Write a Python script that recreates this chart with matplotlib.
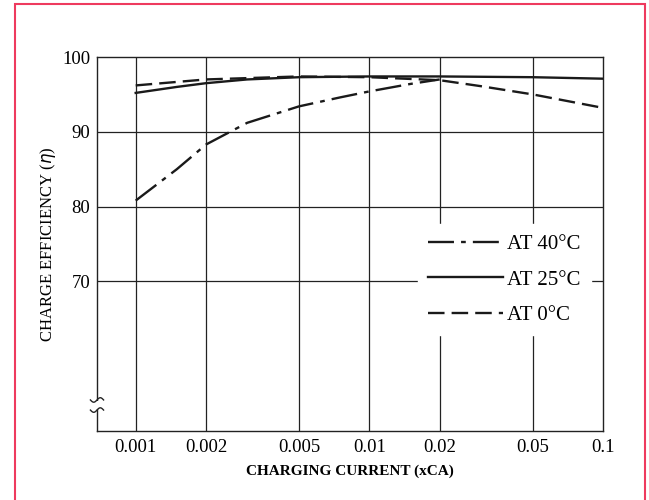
import numpy as np
import matplotlib
matplotlib.use("Agg")
import matplotlib.pyplot as plt
from matplotlib.lines import Line2D
from matplotlib.patches import Rectangle

# data
x_40 = [0.001, 0.0015, 0.002, 0.003, 0.005, 0.0075, 0.01, 0.015, 0.02]
eff_40 = [80.8, 85.0, 88.3, 91.2, 93.4, 94.6, 95.4, 96.4, 97.0]

x_25 = [0.001, 0.0015, 0.002, 0.003, 0.005, 0.01, 0.02, 0.05, 0.1]
eff_25 = [95.2, 96.0, 96.5, 97.0, 97.3, 97.4, 97.4, 97.3, 97.1]

x_0 = [0.001, 0.002, 0.005, 0.01, 0.02, 0.03, 0.05, 0.1]
eff_0 = [96.2, 97.0, 97.4, 97.3, 96.9, 96.1, 95.0, 93.2]

x_ticks = [0.001, 0.002, 0.005, 0.01, 0.02, 0.05, 0.1]
x_ticklabels = ["0.001", "0.002", "0.005", "0.01", "0.02", "0.05", "0.1"]
y_ticks = [70, 80, 90, 100]

labels = ["AT 40°C", "AT 25°C", "AT 0°C"]

plt.rcParams['font.family'] = ['Liberation Serif', 'DejaVu Serif']

fig = plt.figure(figsize=(6.49, 5), dpi=100)
# red frame around the figure
fig.patches.append(Rectangle((15 / 649, -0.02), 630 / 649, 1.0 - 4 / 500 + 0.02,
                             transform=fig.transFigure, fill=False,
                             edgecolor="#ee3a5e", linewidth=1.5))

ax = fig.add_axes([97 / 649, 1 - 431 / 500, 506 / 649, 374 / 500])
ax.set_xscale("log")
ax.set_xlim(0.000683, 0.1)
ax.set_ylim(50, 100)

# grid
for xv in x_ticks[:-1]:
    ax.axvline(xv, color="#222222", linewidth=0.9, zorder=1)
for yv in y_ticks[:-1]:
    ax.axhline(yv, color="#222222", linewidth=0.9, zorder=1)

lw = 1.7
ls_40 = (0, (11, 3, 2, 3))
ls_0 = (0, (7, 3))
ax.plot(x_40, eff_40, color="#1a1a1a", linewidth=lw, linestyle=ls_40, zorder=3)
ax.plot(x_25, eff_25, color="#1a1a1a", linewidth=lw, linestyle="-", zorder=3)
ax.plot(x_0, eff_0, color="#1a1a1a", linewidth=lw, linestyle=ls_0, zorder=3)

ax.set_xticks(x_ticks)
ax.set_xticklabels(x_ticklabels)
ax.minorticks_off()
ax.set_yticks(y_ticks)
ax.tick_params(axis="x", length=0, labelsize=13.5, pad=6)
ax.tick_params(axis="y", length=0, labelsize=13.5, pad=5)

for s in ax.spines.values():
    s.set_linewidth(1.0)
    s.set_color("#222222")

ax.set_xlabel("CHARGING CURRENT (xCA)", fontsize=11, fontweight="bold", labelpad=6)
ax.set_ylabel("CHARGE EFFICIENCY ($\\eta$)", fontsize=12, labelpad=3)

# axis break mark on the left spine
wx = np.linspace(-0.013, 0.013, 30)
wy = 0.006 * np.sin(wx / 0.013 * np.pi)
ax.add_patch(Rectangle((-0.004, 0.058), 0.008, 0.022, transform=ax.transAxes,
                       facecolor="white", edgecolor="none", clip_on=False, zorder=5))
for yc in (0.083, 0.056):
    ax.plot(wx, yc + wy, color="#222222", linewidth=1.0, transform=ax.transAxes,
            clip_on=False, zorder=6)

handles = [Line2D([], [], color="#1a1a1a", linewidth=lw, linestyle=ls_40),
           Line2D([], [], color="#1a1a1a", linewidth=lw, linestyle="-"),
           Line2D([], [], color="#1a1a1a", linewidth=lw, linestyle=ls_0)]
leg = ax.legend(handles, labels, loc="upper right", bbox_to_anchor=(0.997, 0.58),
                frameon=True, fontsize=15, handlelength=3.6, handletextpad=0.2,
                labelspacing=0.75, borderpad=0.5, fancybox=False)
leg.get_frame().set_edgecolor("white")
leg.get_frame().set_facecolor("white")
leg.get_frame().set_alpha(1.0)
leg.set_zorder(4)

fig.savefig("out.png", dpi=100)
